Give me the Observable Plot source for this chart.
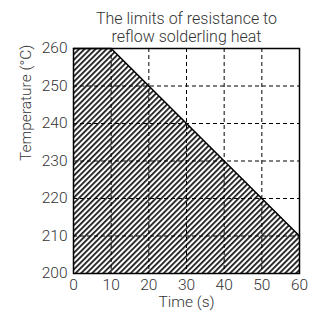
<!DOCTYPE html>
<html>
<head>
<meta charset="utf-8">
<script src="https://cdn.jsdelivr.net/npm/d3@7"></script>
<script src="https://cdn.jsdelivr.net/npm/@observablehq/plot@0.6"></script>
<style>
html, body { margin: 0; padding: 0; background: #fff; }
svg text { font-weight: 300; }
</style>
</head>
<body>
<div id="chart"></div>
<script>
const titleLines = ["The limits of resistance to", "reflow solderling heat"];
const xLabel = "Time (s)";
const yLabel = "Temperature (°C)";
const time = [0, 10, 60];
const temp = [260, 260, 210];
const xTicks = [0, 10, 20, 30, 40, 50, 60];
const yTicks = [200, 210, 220, 230, 240, 250, 260];

const data = time.map((t, i) => ({t, v: temp[i]}));
const font = "Roboto, 'Liberation Sans', Arial, sans-serif";
const ink = "#333";

const chart = Plot.plot({
  width: 311,
  height: 311,
  marginLeft: 73,
  marginRight: 12,
  marginTop: 48,
  marginBottom: 38,
  style: {fontFamily: font, fontSize: "15.5px", color: ink, background: "#fff"},
  x: {domain: [0, 60]},
  y: {domain: [200, 260]},
  marks: [
    Plot.areaY(data, {x: "t", y1: 200, y2: "v", fill: "url(#hatch)"}),
    Plot.gridX(xTicks.slice(1, -1), {stroke: "#000", strokeOpacity: 1, strokeWidth: 1, strokeDasharray: "4,3"}),
    Plot.gridY(yTicks.slice(1, -1), {stroke: "#000", strokeOpacity: 1, strokeWidth: 1, strokeDasharray: "4,3"}),
    Plot.line(data, {x: "t", y: "v", stroke: "#000", strokeWidth: 1.5}),
    Plot.frame({stroke: "#000", strokeWidth: 1.5}),
    Plot.axisX(xTicks, {tickSize: 0, tickPadding: 5, label: null, fill: ink, fontSize: 15.5}),
    Plot.axisY(yTicks, {tickSize: 0, tickPadding: 6, label: null, fill: ink, fontSize: 15.5}),
    Plot.text([xLabel], {frameAnchor: "bottom", lineAnchor: "middle", dy: 29, fill: ink, fontSize: 15.5}),
    Plot.text([yLabel], {frameAnchor: "left", lineAnchor: "middle", rotate: -90, dx: -47, fill: ink, fontSize: 15.5}),
    Plot.text([titleLines.join("\n")], {frameAnchor: "top", lineAnchor: "top", dy: -37, lineHeight: 1.1, fill: ink, fontSize: 16})
  ]
});

const svg = d3.select(chart);
const defs = svg.insert("defs", ":first-child");
const pat = defs.append("pattern")
  .attr("id", "hatch")
  .attr("patternUnits", "userSpaceOnUse")
  .attr("width", 3.9)
  .attr("height", 10)
  .attr("patternTransform", "rotate(45)");
pat.append("rect").attr("width", 3.9).attr("height", 10).attr("fill", "#fff");
pat.append("line").attr("x1", 0.9).attr("y1", 0).attr("x2", 0.9).attr("y2", 10)
  .attr("stroke", "#000").attr("stroke-width", 1.6);

document.getElementById("chart").appendChild(chart);
</script>
</body>
</html>
